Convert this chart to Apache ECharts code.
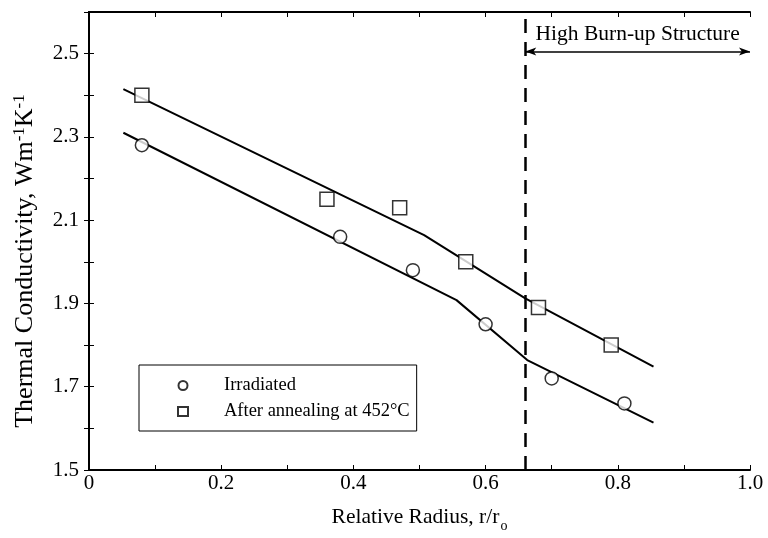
<!DOCTYPE html>
<html>
<head>
<meta charset="utf-8">
<script src="https://cdn.jsdelivr.net/npm/echarts@6/dist/echarts.min.js"></script>
<style>
  html, body { margin: 0; padding: 0; background: #fff; }
  #main { width: 768px; height: 538px; }
</style>
</head>
<body>
<div id="main"></div>
<script>
// measured points
const irrX = [0.08, 0.38, 0.49, 0.60, 0.70, 0.81];
const irrY = [2.28, 2.06, 1.98, 1.85, 1.72, 1.66];
const annX = [0.08, 0.36, 0.47, 0.57, 0.68, 0.79];
const annY = [2.40, 2.15, 2.13, 2.00, 1.89, 1.80];

// fitted lines (piecewise)
const fitIrrX = [0.052, 0.556, 0.663, 0.854];
const fitIrrY = [2.310, 1.908, 1.764, 1.614];
const fitAnnX = [0.052, 0.507, 0.660, 0.854];
const fitAnnY = [2.415, 2.064, 1.912, 1.748];

const hbsStart = 0.66;
const hbsArrowY = 2.505;

const pairs = (xs, ys) => xs.map((x, i) => [x, ys[i]]);

const font = 'Liberation Serif';
let chart = echarts.init(document.getElementById('main'));

const tickStyle = { inside: true, length: 5, lineStyle: { color: '#000', width: 1 } };

chart.setOption({
    animation: false,
    backgroundColor: '#fff',
    textStyle: { fontFamily: font, color: '#000' },
    grid: { left: 89, right: 18, top: 12, bottom: 68 },
    legend: {
        left: 139, top: 365,
        orient: 'vertical',
        selectedMode: false,
        borderColor: '#000', borderWidth: 1,
        padding: [11, 7, 10, 38],
        itemGap: 7,
        itemWidth: 10, itemHeight: 9,
        textStyle: { fontFamily: font, fontSize: 18.5, color: '#000', lineHeight: 16, padding: [0, 0, 0, 31] },
        data: [
            { name: 'Irradiated', icon: 'circle' },
            { name: 'After annealing at 452°C', icon: 'rect' }
        ]
    },
    xAxis: [{
        type: 'value', min: 0, max: 1, interval: 0.1,
        name: '{a|Relative Radius, r/r}{b|o}',
        nameLocation: 'middle', nameGap: 36,
        nameTextStyle: {
            rich: {
                a: { fontFamily: font, fontSize: 21.5, color: '#000', lineHeight: 22 },
                b: { fontFamily: font, fontSize: 14, color: '#000', lineHeight: 14, padding: [18, 0, 0, 1] }
            }
        },
        axisLine: { lineStyle: { color: '#000', width: 2 } },
        axisTick: tickStyle,
        splitLine: { show: false },
        axisLabel: {
            fontFamily: font, fontSize: 21, color: '#000', margin: 3,
            formatter: v => {
                const k = Math.round(v * 10);
                if (k % 2) return '';
                return k === 0 ? '0' : (k / 10).toFixed(1);
            }
        }
    }, {
        type: 'value', min: 0, max: 1, interval: 0.1, position: 'top',
        axisLine: { show: true, lineStyle: { color: '#000', width: 2 } },
        axisTick: tickStyle,
        axisLabel: { show: false },
        splitLine: { show: false }
    }],
    yAxis: [{
        type: 'value', min: 1.5, max: 2.6, interval: 0.1,
        name: '{a|Thermal Conductivity, Wm}{s|-1}{a|K}{s|-1}',
        nameLocation: 'middle', nameGap: 50, nameRotate: 90,
        nameTextStyle: {
            padding: [0, 40, 0, 0],
            rich: {
                a: { fontFamily: font, fontSize: 26, color: '#000', lineHeight: 28 },
                s: { fontFamily: font, fontSize: 17, color: '#000', lineHeight: 17, verticalAlign: 'top' }
            }
        },
        axisLine: { show: true, lineStyle: { color: '#000', width: 2 } },
        axisTick: tickStyle,
        splitLine: { show: false },
        axisLabel: {
            fontFamily: font, fontSize: 21, color: '#000', margin: 10,
            formatter: v => {
                const k = Math.round(v * 10);
                return (k % 2 === 1 && k <= 25) ? (k / 10).toFixed(1) : '';
            }
        }
    }, {
        type: 'value', min: 1.5, max: 2.6, interval: 0.1, position: 'right',
        axisLine: { show: true, lineStyle: { color: '#000', width: 2 } },
        axisTick: tickStyle,
        axisLabel: { show: false },
        splitLine: { show: false }
    }],
    series: [
        {
            name: 'fitIrr', type: 'line', data: pairs(fitIrrX, fitIrrY),
            symbol: 'none', lineStyle: { color: '#000', width: 2 }, z: 2,
            markLine: {
                silent: true, symbol: 'none',
                lineStyle: { color: '#000', width: 2.5, type: [14, 9] },
                label: { show: false },
                data: [{ xAxis: hbsStart }]
            }
        },
        {
            name: 'fitAnn', type: 'line', data: pairs(fitAnnX, fitAnnY),
            symbol: 'none', lineStyle: { color: '#000', width: 2 }, z: 2,
            markLine: {
                silent: true, symbol: ['arrow', 'arrow'], symbolSize: [6, 11],
                lineStyle: { color: '#000', width: 1.5, type: 'solid' },
                label: {
                    show: true, position: 'middle', distance: 6,
                    fontFamily: font, fontSize: 21.5, color: '#000',
                    formatter: 'High Burn-up Structure'
                },
                data: [[{ coord: [hbsStart, hbsArrowY] }, { coord: [1, hbsArrowY] }]]
            }
        },
        {
            name: 'Irradiated', type: 'scatter', data: pairs(irrX, irrY),
            symbol: 'circle', symbolSize: 13, z: 3,
            itemStyle: { color: '#fff', borderColor: '#000', borderWidth: 1.5 }
        },
        {
            name: 'After annealing at 452°C', type: 'scatter', data: pairs(annX, annY),
            symbol: 'rect', symbolSize: 14, z: 3,
            itemStyle: { color: '#fff', borderColor: '#000', borderWidth: 1.5 }
        }
    ]
});
</script>
</body>
</html>
